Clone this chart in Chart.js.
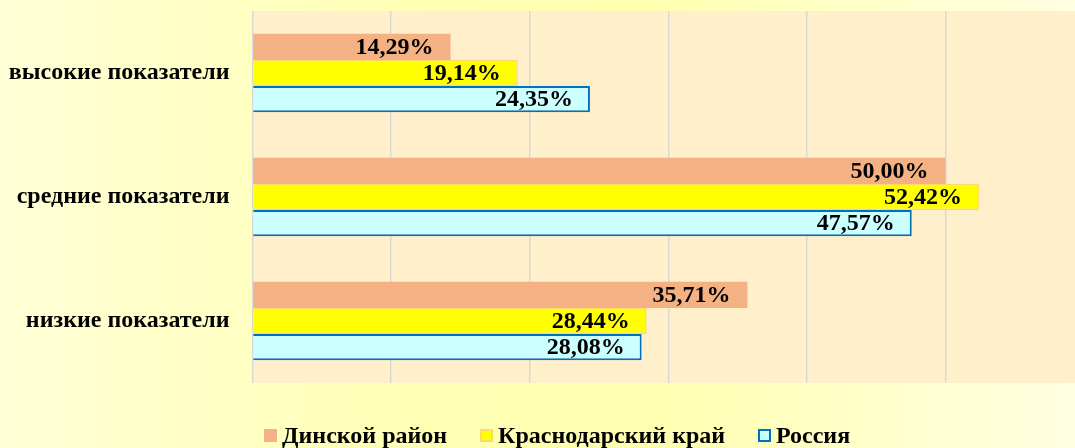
<!DOCTYPE html>
<html>
<head>
<meta charset="utf-8">
<script src="https://cdn.jsdelivr.net/npm/chart.js@4.4.1/dist/chart.umd.min.js"></script>
<style>
    html, body { margin: 0; padding: 0; overflow: hidden; }
    body {
        width: 1075px; height: 448px; position: relative;
        background: linear-gradient(90deg, #FFFFD6 0%, #FFFFB4 40%, #FFFFB0 60%, #FFFFE2 100%);
        font-family: 'Liberation Serif', 'Times New Roman', serif;
    }
    #wrap { position: absolute; left: 0; top: 0; width: 1114px; height: 448px; }
    .legend { position: absolute; top: 423px; height: 24px; display: flex; align-items: center;
              font-weight: bold; font-size: 24px; color: #000; white-space: nowrap; }
    .legend i { display: inline-block; width: 13px; height: 13px; box-sizing: border-box; margin-right: 5px; }
</style>
</head>
<body>
<div id="wrap"><canvas id="chart" width="1114" height="448"></canvas></div>
<div class="legend" style="left:264px"><i style="background:#F4B183"></i>Динской район</div>
<div class="legend" style="left:480px"><i style="background:#FFFF00;border:2px solid #FFD966"></i>Краснодарский край</div>
<div class="legend" style="left:758px"><i style="background:#CCFFFF;border:2px solid #0070C0"></i>Россия</div>

<script>
// ---- data ----
const categories = ['высокие показатели', 'средние показатели', 'низкие показатели'];
const seriesNames = ['Динской район', 'Краснодарский край', 'Россия'];
const dinskoy = [14.29, 50.00, 35.71];
const krasnodar = [19.14, 52.42, 28.44];
const russia = [24.35, 47.57, 28.08];

const labelFont = "bold 24px 'Liberation Serif', 'Times New Roman', serif";

// plot area fill
const plotBg = {
    id: 'plotBg',
    beforeDraw(chart) {
        const { ctx, chartArea: a } = chart;
        ctx.save();
        ctx.fillStyle = '#FFF0CB';
        ctx.fillRect(a.left, a.top, a.right - a.left, a.bottom - a.top);
        ctx.restore();
    }
};

// value labels, inside end of each bar
const valueLabels = {
    id: 'valueLabels',
    afterDatasetsDraw(chart) {
        const ctx = chart.ctx;
        ctx.save();
        ctx.font = labelFont;
        ctx.fillStyle = '#000';
        ctx.textAlign = 'right';
        ctx.textBaseline = 'middle';
        chart.data.datasets.forEach((ds, i) => {
            chart.getDatasetMeta(i).data.forEach((bar, j) => {
                const txt = ds.data[j].toFixed(2).replace('.', ',') + '%';
                ctx.fillText(txt, bar.x - 17, bar.y + 1);
            });
        });
        ctx.restore();
    }
};

new Chart(document.getElementById('chart'), {
    type: 'bar',
    data: {
        labels: categories,
        datasets: [
            { label: seriesNames[0], data: dinskoy, backgroundColor: '#F4B183', borderWidth: 0 },
            { label: seriesNames[1], data: krasnodar, backgroundColor: '#FFFF00', borderColor: '#FFD966', borderWidth: 1.5 },
            { label: seriesNames[2], data: russia, backgroundColor: '#CCFFFF', borderColor: '#0070C0', borderWidth: 2 }
        ]
    },
    options: {
        indexAxis: 'y',
        responsive: false,
        animation: false,
        categoryPercentage: 0.632,
        barPercentage: 1.0,
        layout: { padding: { top: 11, bottom: 65, right: 30, left: 0 } },
        plugins: { legend: { display: false }, tooltip: { enabled: false } },
        scales: {
            x: {
                min: 0, max: 60,
                ticks: { display: false, stepSize: 10 },
                grid: { color: '#D9D9D9', lineWidth: 1.5, drawTicks: false },
                border: { display: false },
                afterFit: s => { s.height = 0; s.paddingLeft = 0; s.paddingRight = 0; }
            },
            y: {
                grid: { display: false, drawTicks: false },
                border: { display: false },
                ticks: {
                    color: '#000',
                    padding: 23,
                    font: { family: "'Liberation Serif', 'Times New Roman', serif", size: 24, weight: 'bold' }
                },
                afterFit: s => { s.width = 252.5; s.paddingTop = 0; s.paddingBottom = 0; }
            }
        }
    },
    plugins: [plotBg, valueLabels]
});
</script>
</body>
</html>
